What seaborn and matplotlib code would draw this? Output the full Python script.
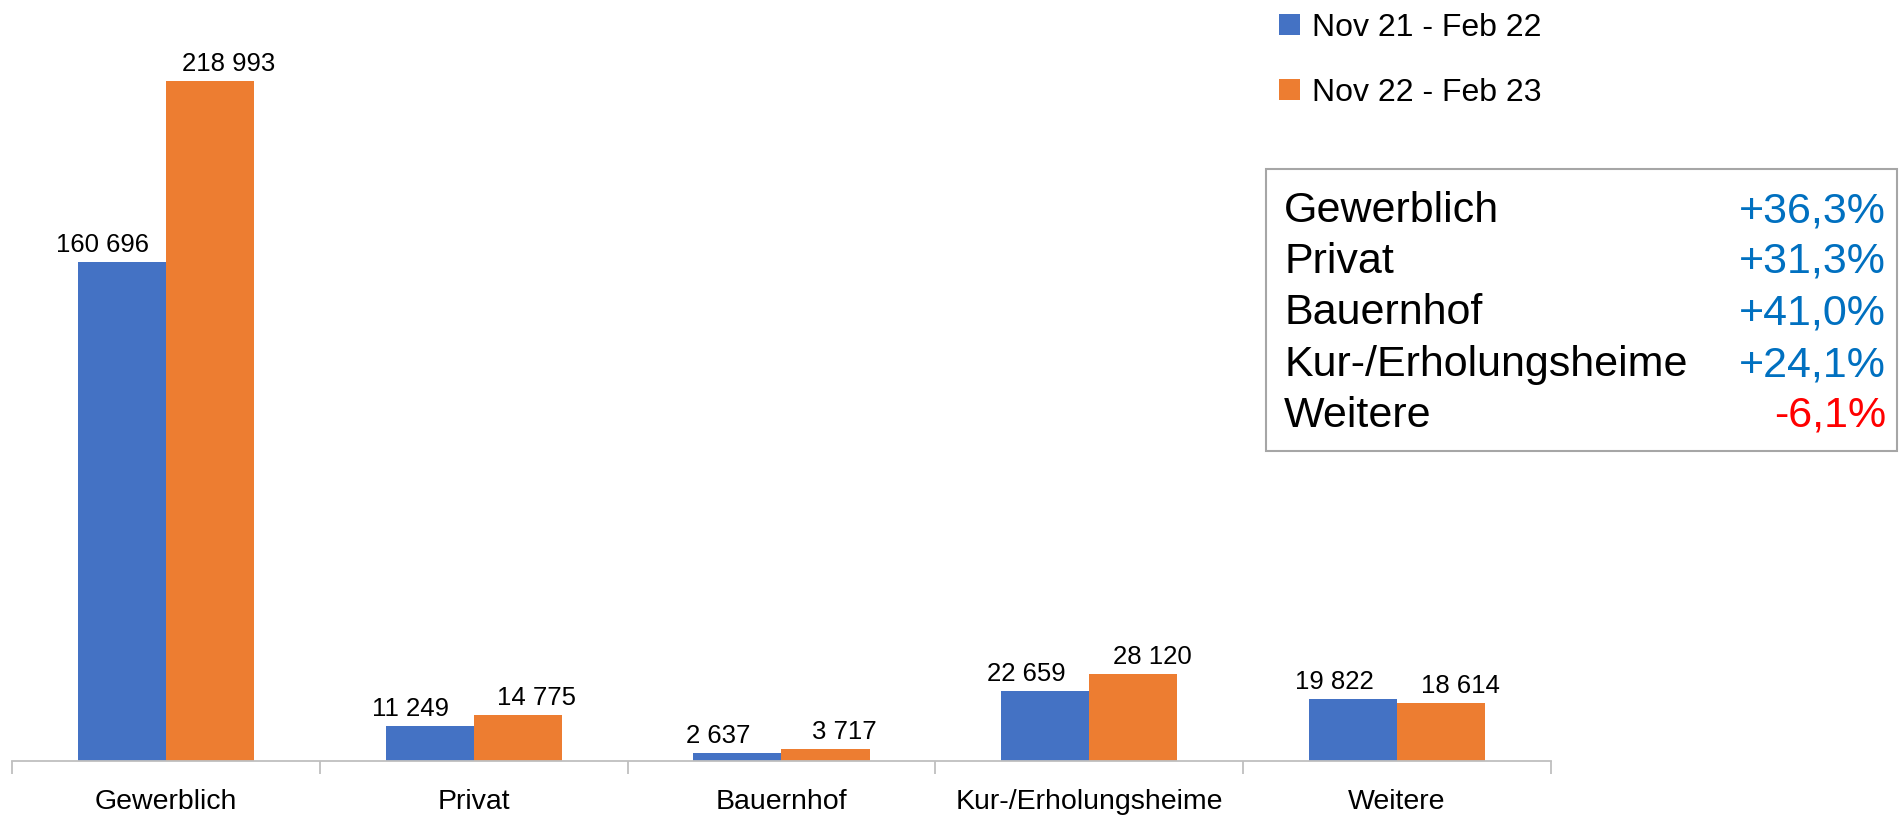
import pandas as pd
import matplotlib
matplotlib.use("Agg")
import matplotlib.pyplot as plt
import seaborn as sns
from matplotlib.patches import Rectangle, Patch

# Data
CATEGORIES = ["Gewerblich", "Privat", "Bauernhof", "Kur-/Erholungsheime", "Weitere"]
PERIODS = ["Nov 21 - Feb 22", "Nov 22 - Feb 23"]
VALUES_PREV = [160696, 11249, 2637, 22659, 19822]
VALUES_CURR = [218993, 14775, 3717, 28120, 18614]

PALETTE = ["#4472C4", "#ED7D31"]
UP_COLOR = "#0070C0"
DOWN_COLOR = "#FF0000"
AXIS_GRAY = "#BFBFBF"


def fmt_thousands(v):
    return f"{v:,}".replace(",", " ")


def fmt_change(prev, curr):
    pct = (curr / prev - 1) * 100
    return f"{pct:+.1f}%".replace(".", ",")


df = pd.DataFrame({
    "category": CATEGORIES * 2,
    "period": [PERIODS[0]] * len(CATEGORIES) + [PERIODS[1]] * len(CATEGORIES),
    "value": VALUES_PREV + VALUES_CURR,
})

sns.set_theme(style="white")
plt.rcParams["font.family"] = ["Liberation Sans", "DejaVu Sans"]

W, H = 1903, 815
PX = 72 / 100  # points per pixel at dpi 100
fig = plt.figure(figsize=(W / 100, H / 100), dpi=100)
ax = fig.add_axes([12 / W, 54 / H, 1539 / W, 761 / H])

sns.barplot(data=df, x="category", y="value", hue="period", order=CATEGORIES,
            hue_order=PERIODS, palette=PALETTE, width=0.572, gap=0,
            saturation=1, linewidth=0, ax=ax, legend=False)

ax.set_xlim(-0.5, len(CATEGORIES) - 0.5)
ax.set_ylim(0, 245000)

# data labels above the bars, nudged apart like the original
for cont, vals, dx in zip(ax.containers, [VALUES_PREV, VALUES_CURR], [-19, 19]):
    for bar, v in zip(cont, vals):
        ax.annotate(fmt_thousands(v),
                    xy=(bar.get_x() + bar.get_width() / 2, bar.get_height()),
                    xytext=(dx * PX, 10 * PX), textcoords="offset points",
                    ha="center", va="baseline", fontsize=18.5, color="black")

# axis styling: only a gray baseline with ticks between categories
for side in ["top", "left", "right"]:
    ax.spines[side].set_visible(False)
ax.spines["bottom"].set_color(AXIS_GRAY)
ax.spines["bottom"].set_linewidth(1.3)
ax.set_yticks([])
ax.set_xlabel("")
ax.set_ylabel("")
ax.set_xticks(range(len(CATEGORIES)))
ax.set_xticklabels(CATEGORIES, fontsize=20.5, color="black")
ax.set_xticks([i - 0.5 for i in range(len(CATEGORIES) + 1)], minor=True)
ax.tick_params(axis="x", which="major", length=0, pad=20)
ax.tick_params(axis="x", which="minor", length=9.5, width=1.3,
               color=AXIS_GRAY, direction="out", bottom=True)
ax.patch.set_visible(False)

# legend, top right
handles = [Patch(facecolor=c, edgecolor="none") for c in PALETTE]
fig.legend(handles, PERIODS, loc="upper left", bbox_to_anchor=(1266.5 / W, 1.0),
           frameon=False, fontsize=23, handlelength=0.66, handleheight=0.66,
           handletextpad=0.35, labelspacing=1.1, borderaxespad=0,
           labelcolor="black")

# box with percentage changes
box_x0, box_y0, box_x1, box_y1 = 1266, 169, 1897, 451
fig.patches.append(Rectangle((box_x0 / W, 1 - box_y1 / H),
                             (box_x1 - box_x0) / W, (box_y1 - box_y0) / H,
                             transform=fig.transFigure, facecolor="white",
                             edgecolor="#A6A6A6", linewidth=1.5))
row_base = [222, 273, 324.5, 376, 427]
for cat, p, c, y in zip(CATEGORIES, VALUES_PREV, VALUES_CURR, row_base):
    col = DOWN_COLOR if c < p else UP_COLOR
    fig.text(1284 / W, 1 - y / H, cat, fontsize=31, color="black",
             ha="left", va="baseline")
    fig.text(1886 / W, 1 - y / H, fmt_change(p, c), fontsize=31, color=col,
             ha="right", va="baseline")

fig.savefig("out.png", dpi=100)
